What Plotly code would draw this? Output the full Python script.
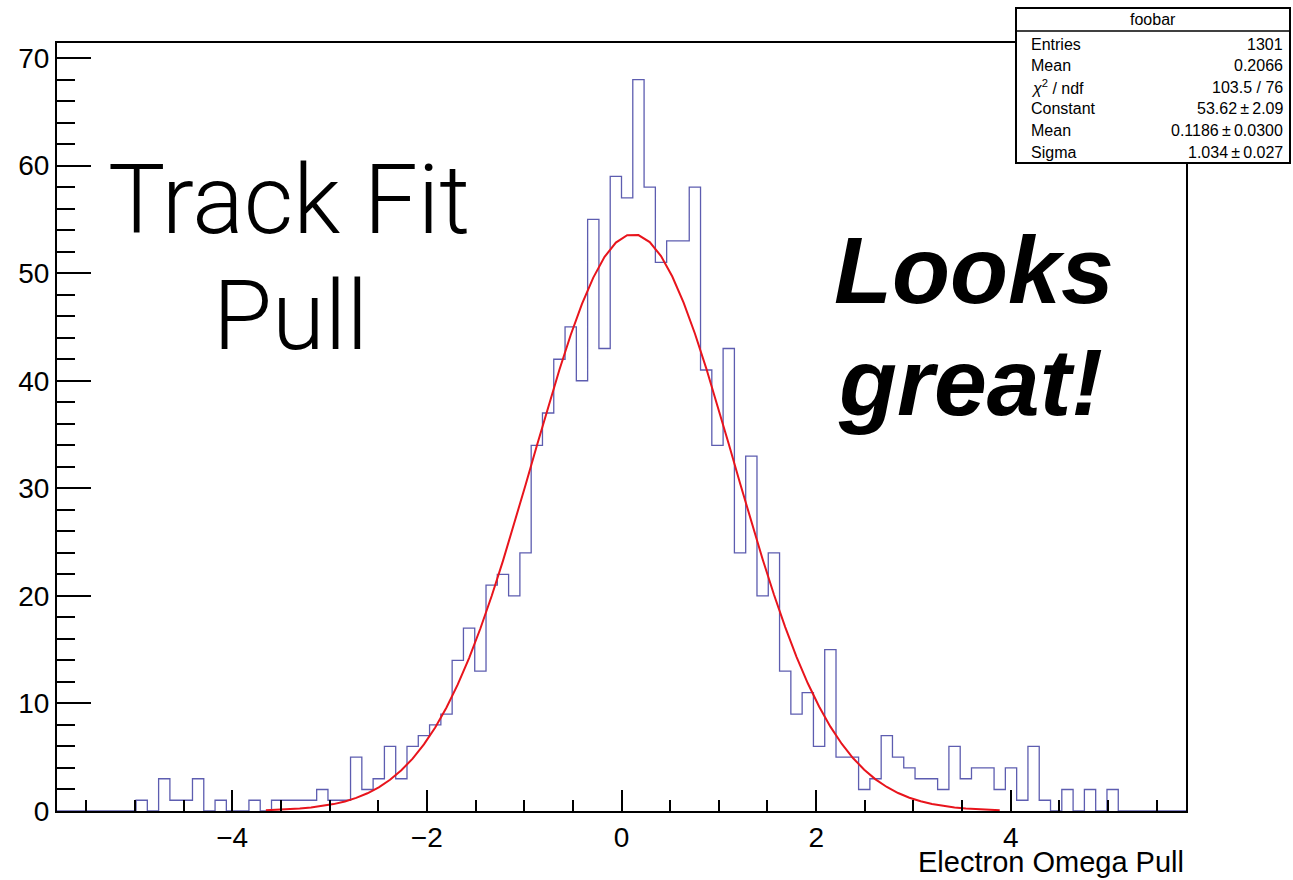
import numpy as np
import plotly.graph_objects as go

# ---------------- data ----------------
x_min, x_max, n_bins = -5.8, 5.8, 100
bin_counts = [
    0, 0, 0, 0, 0, 0, 0, 1, 0, 3,
    1, 1, 3, 0, 1, 0, 0, 1, 0, 1,
    1, 1, 1, 2, 1, 1, 5, 2, 3, 6,
    3, 6, 7, 8, 9, 14, 17, 13, 21, 22,
    20, 24, 34, 37, 42, 45, 40, 55, 43, 59,
    57, 68, 58, 51, 53, 53, 58, 41, 34, 43,
    24, 33, 20, 24, 13, 9, 11, 6, 15, 5,
    5, 2, 3, 7, 5, 4, 3, 3, 2, 6,
    3, 4, 4, 2, 4, 1, 6, 1, 0, 2,
    0, 2, 0, 2, 0, 0, 0, 0, 0, 0,
]
fit_constant, fit_mean, fit_sigma = 53.62, 0.1186, 1.034

stats_labels = ["Entries", "Mean", "<i>χ</i><sup>2</sup> / ndf", "Constant", "Mean", "Sigma"]
stats_values = ["1301", "0.2066", "103.5 / 76", "53.62\u2009±\u20092.09",
                "0.1186\u2009±\u20090.0300", "1.034\u2009±\u20090.027"]

x_tick_vals = [-4, -2, 0, 2, 4]
y_tick_vals = [0, 10, 20, 30, 40, 50, 60, 70]

# ---------------- geometry helpers ----------------
W, H = 1293, 880
L, R, T, B = 57, 107, 43, 69
pw, ph = W - L - R, H - T - B


def px(xp):
    return (xp - L) / pw


def py(yp):
    return (H - B - yp) / ph


edges = np.linspace(x_min, x_max, n_bins + 1)
centers = 0.5 * (edges[:-1] + edges[1:])
counts = np.array(bin_counts, dtype=float)
step_y = np.append(counts, counts[-1])

fit_y = fit_constant * np.exp(-0.5 * ((centers - fit_mean) / fit_sigma) ** 2)
# the curve vanishes into the frame where it is essentially zero
fit_y_drawn = np.where(fit_y > 0.06, fit_y, np.nan)

fig = go.Figure()
fig.add_trace(go.Scatter(x=edges, y=step_y, mode="lines", line_shape="hv",
                         line=dict(color="#5d5db0", width=1.3), hoverinfo="skip",
                         showlegend=False))
fig.add_trace(go.Scatter(x=centers, y=fit_y_drawn, mode="lines", connectgaps=False,
                         line=dict(color="#e8141c", width=2), showlegend=False))

tickfont = dict(family="Liberation Sans, Arial, sans-serif", size=28, color="black")

fig.update_xaxes(range=[x_min, x_max], showline=True, linecolor="black", linewidth=2,
                 mirror=True, ticks="inside", ticklen=21, tickwidth=2, tickcolor="black",
                 tickvals=x_tick_vals, tickfont=tickfont, showgrid=False, zeroline=False,
                 ticklabelstandoff=0,
                 minor=dict(ticks="inside", dtick=0.5, tick0=0, ticklen=11, tickwidth=2,
                            tickcolor="black", showgrid=False))
fig.update_yaxes(range=[0, 71.4], showline=True, linecolor="black", linewidth=2,
                 mirror=True, ticks="inside", ticklen=34, tickwidth=2, tickcolor="black",
                 tickvals=y_tick_vals, tickfont=tickfont, showgrid=False, zeroline=False,
                 ticklabelstandoff=0,
                 minor=dict(ticks="inside", dtick=2, tick0=0, ticklen=18, tickwidth=2,
                            tickcolor="black", showgrid=False))

annotations = []
# axis title
annotations.append(dict(text="Electron Omega Pull", xref="paper", yref="paper",
                        x=1.0, y=py(862), xanchor="right", yanchor="middle",
                        showarrow=False, font=dict(family="Liberation Sans, Arial", size=29,
                                                   color="black")))
# big texts
light = dict(family="Roboto", size=96, color="black", weight=300)
annotations.append(dict(text="Track Fit", xref="paper", yref="paper", x=px(289), y=py(200),
                        xanchor="center", yanchor="middle", showarrow=False, font=light))
annotations.append(dict(text="Pull", xref="paper", yref="paper", x=px(290), y=py(316),
                        xanchor="center", yanchor="middle", showarrow=False, font=light))
bold = dict(family="Liberation Sans, Arial", size=95, color="black", weight="bold",
            style="italic")
annotations.append(dict(text="Looks", xref="paper", yref="paper", x=px(974), y=py(270),
                        xanchor="center", yanchor="middle", showarrow=False, font=bold))
annotations.append(dict(text="great!", xref="paper", yref="paper", x=px(970), y=py(382),
                        xanchor="center", yanchor="middle", showarrow=False, font=bold))

# stats box
box_l, box_r, box_t, box_b, head_b = 1016, 1290, 8, 163, 31
shapes = [
    dict(type="rect", xref="paper", yref="paper", x0=px(box_l), x1=px(box_r),
         y0=py(box_b), y1=py(box_t), fillcolor="white", line=dict(color="black", width=2),
         layer="above"),
    dict(type="line", xref="paper", yref="paper", x0=px(box_l), x1=px(box_r),
         y0=py(head_b), y1=py(head_b), line=dict(color="black", width=1.5), layer="above"),
]
sfont = dict(family="Liberation Sans, Arial", size=16, color="black")
annotations.append(dict(text="foobar", xref="paper", yref="paper", x=px((box_l + box_r) / 2),
                        y=py(19.5), xanchor="center", yanchor="middle", showarrow=False,
                        font=sfont))
row0, row_h = 44, 21.6
for i, (lab, val) in enumerate(zip(stats_labels, stats_values)):
    yy = py(row0 + i * row_h)
    annotations.append(dict(text=lab, xref="paper", yref="paper", x=px(1029), y=yy,
                            xanchor="left", yanchor="middle", showarrow=False, font=sfont))
    annotations.append(dict(text=val, xref="paper", yref="paper", x=px(1285), y=yy,
                            xanchor="right", yanchor="middle", showarrow=False, font=sfont))

fig.update_layout(width=W, height=H, margin=dict(l=L, r=R, t=T, b=B),
                  paper_bgcolor="white", plot_bgcolor="white",
                  annotations=annotations, shapes=shapes, showlegend=False)

fig.write_html("out.html")
